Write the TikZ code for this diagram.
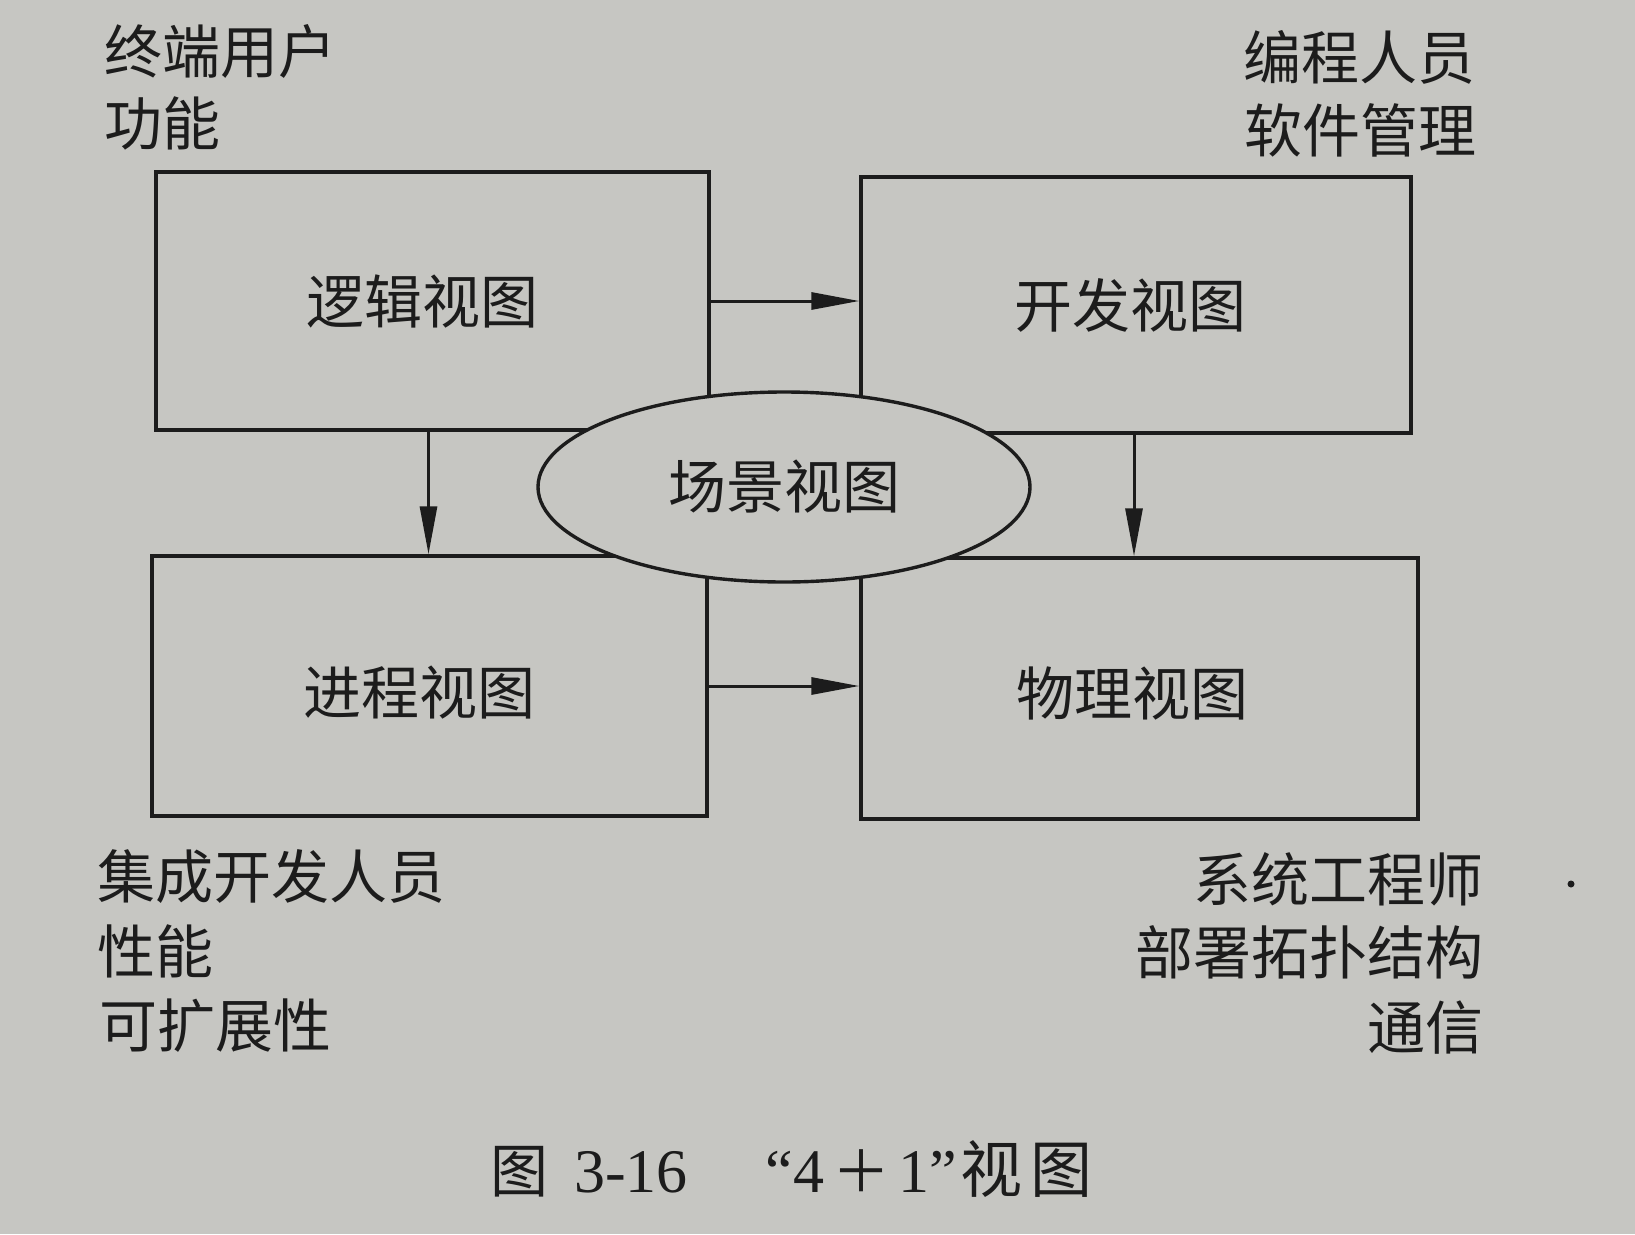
\documentclass[tikz,border=0pt]{standalone}
\usepackage{fontspec}
\setmainfont{Liberation Serif}
\newfontfamily\cjk{Noto Sans CJK SC}
\usetikzlibrary{arrows.meta,shapes.geometric}
\definecolor{paper}{RGB}{198,198,194}
\definecolor{ink}{RGB}{28,28,28}
\tikzset{
  viewbox/.style={draw=ink, line width=3.4pt, fill=paper, inner sep=0pt},
  scenario/.style={ellipse, draw=ink, line width=3.4pt, fill=paper, inner sep=0pt, minimum width=492pt, minimum height=190pt, font=\cjk\fontsize{58}{70}\selectfont, text=ink},
  lbl/.style={inner sep=0pt, font=\cjk\fontsize{58}{70}\selectfont, text=ink},
  flow/.style={draw=ink, line width=3pt, -{Triangle[length=48pt,width=17pt]}},
}
\newcommand{\capcjk}[2][58]{{\cjk\fontsize{#1}{70}\selectfont #2}}
\begin{document}
\begin{tikzpicture}[x=1pt,y=-1pt]
\fill[paper] (0,0) rectangle (1635,1234);
\useasboundingbox (0,0) rectangle (1635,1234);
% boxes
\node[viewbox, minimum width=553pt, minimum height=258pt] (L) at (432.5,301) {};
\node[viewbox, minimum width=550pt, minimum height=256pt] (D) at (1136,305) {};
\node[viewbox, minimum width=555pt, minimum height=260pt] (P) at (429.5,686) {};
\node[viewbox, minimum width=557pt, minimum height=261pt] (Y) at (1139.5,688.5) {};
\node[lbl] (Lt) at ([xshift=-10pt,yshift=0pt]L.center) {逻辑视图};
\node[lbl] (Dt) at ([xshift=-6pt,yshift=0pt]D.center) {开发视图};
\node[lbl] (Pt) at ([xshift=-10pt,yshift=-7pt]P.center) {进程视图};
\node[lbl] (Yt) at ([xshift=-7pt,yshift=-5pt]Y.center) {物理视图};
% arrows
\draw[flow] (L.east) -- (L.east -| D.west);
\draw[flow] (P.east) -- (P.east -| Y.west);
\draw[flow] ([xshift=-4pt]L.south) -- ([xshift=-4pt]L.south |- P.north);
\draw[flow] ([xshift=-2pt]D.south) -- ([xshift=-2pt]D.south |- Y.north);
% scenario
\node[scenario] (S) at (784,487) {场景视图};
% labels
\node[lbl, anchor=base west] (a1) at (104,73) {终端用户};
\node[lbl, anchor=base west] (a2) at (104,145) {功能};
\node[lbl, anchor=base east] (b1) at (1476,79) {编程人员};
\node[lbl, anchor=base east] (b2) at (1477,152) {软件管理};
\node[lbl, anchor=base west] (c1) at (97,898) {集成开发人员};
\node[lbl, anchor=base west] (c2) at (97,973) {性能};
\node[lbl, anchor=base west] (c3) at (99,1047) {可扩展性};
\node[lbl, anchor=base east] (d1) at (1484,901) {系统工程师};
\node[lbl, anchor=base east] (d2) at (1484,974) {部署拓扑结构};
\node[lbl, anchor=base east] (d3) at (1484,1049) {通信};
% caption
\node[inner sep=0pt, anchor=base west, text=ink, font=\fontsize{62}{70}\selectfont] (cap) at (490,1192)
  {\capcjk{图}\hspace{26pt}3-16\hspace{78pt}“4\hspace{8pt}\capcjk{＋}\hspace{8pt}1”\hspace{4pt}\capcjk[62]{视}\hspace{8pt}\capcjk[62]{图}};
% stray dot
\fill[ink] (1571,884) circle (3.5pt);
\end{tikzpicture}
\end{document}
